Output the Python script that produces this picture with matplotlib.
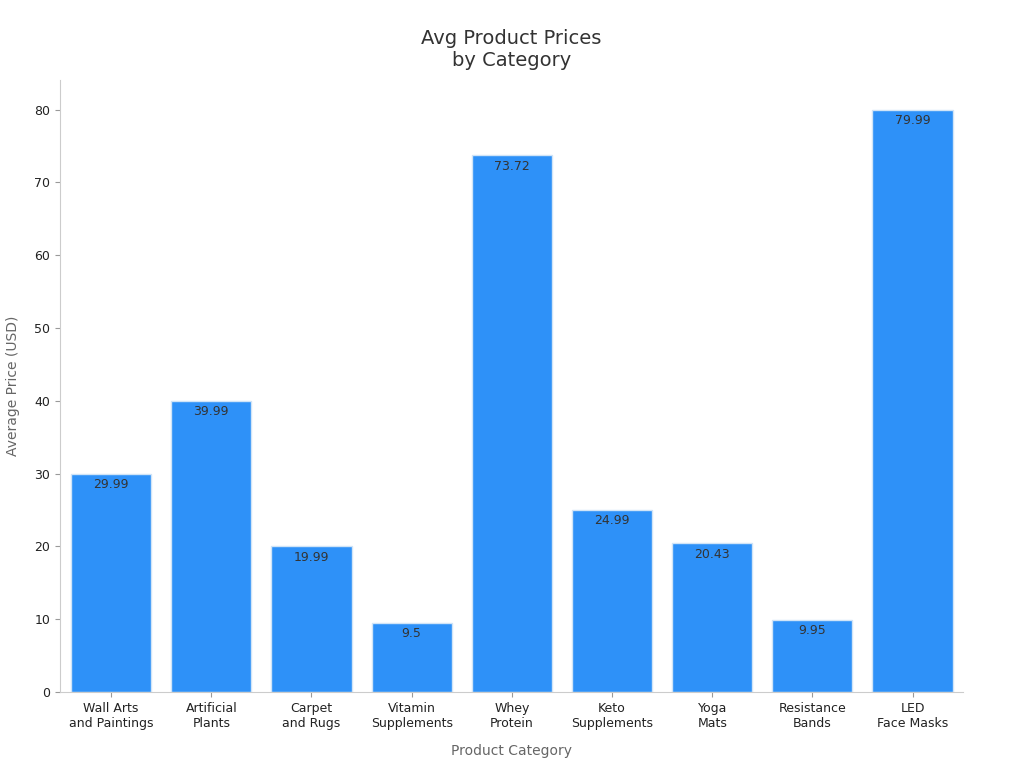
import matplotlib
matplotlib.use("Agg")
import matplotlib.pyplot as plt

categories = ["Wall Arts\nand Paintings", "Artificial\nPlants", "Carpet\nand Rugs",
              "Vitamin\nSupplements", "Whey\nProtein", "Keto\nSupplements",
              "Yoga\nMats", "Resistance\nBands", "LED\nFace Masks"]
prices = [29.99, 39.99, 19.99, 9.5, 73.72, 24.99, 20.43, 9.95, 79.99]
labels = ["29.99", "39.99", "19.99", "9.5", "73.72", "24.99", "20.43", "9.95", "79.99"]

plt.rcParams['font.family'] = ['DejaVu Sans']
fig = plt.figure(figsize=(10.24, 7.68), dpi=100)
ax = fig.add_axes([0.0586, 0.099, 0.8815, 0.797])

x = range(len(categories))
bars = ax.bar(x, prices, width=0.8, color="#2E91F8", edgecolor="#D0E4F7", linewidth=1)
for b, lab in zip(bars, labels):
    ax.text(b.get_x() + b.get_width() / 2, b.get_height() - 0.6, lab,
            ha="center", va="top", fontsize=9, color="#333333")

ax.set_xlim(-0.51, 8.5)
ax.set_ylim(0, 84.1)
ax.set_xticks(list(x))
ax.set_xticklabels(categories, fontsize=9, color="#222222")
ax.set_yticks(range(0, 81, 10))
ax.tick_params(axis="y", labelsize=9, colors="#222222")
ax.tick_params(axis="both", color="#999999")
for s in ["top", "right"]:
    ax.spines[s].set_visible(False)
for s in ["left", "bottom"]:
    ax.spines[s].set_color("#CCCCCC")

ax.set_xlabel("Product Category", fontsize=10, color="#666666", labelpad=10)
ax.set_ylabel("Average Price (USD)", fontsize=10, color="#666666", labelpad=10)
ax.set_title("Avg Product Prices\nby Category", fontsize=14, color="#333333", pad=10)

fig.savefig("out.png", dpi=100)
